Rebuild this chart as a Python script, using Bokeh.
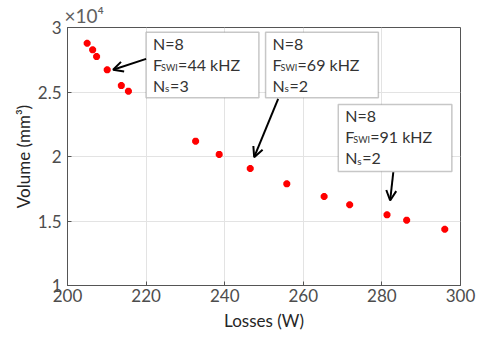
from bokeh.plotting import figure
from bokeh.models import (Range1d, FixedTicker, CustomJSTickFormatter, BoxAnnotation,
                          Label, Arrow, OpenHead, Title)
from bokeh.embed import file_html
from bokeh.resources import INLINE

# ---- data ----
losses = [205.0, 206.4, 207.4, 210.1, 213.7, 215.5, 232.6, 238.6, 246.5,
          255.8, 265.3, 271.8, 281.3, 286.3, 296.0]
volume = [28780, 28270, 27750, 26720, 25500, 25060, 21190, 20160, 19070,
          17880, 16900, 16260, 15480, 15060, 14360]
x_ticks = [200, 220, 240, 260, 280, 300]
y_ticks = [10000, 15000, 20000, 25000, 30000]

# annotation boxes: (left, right, top, bottom), texts
ann_boxes = [(220.0, 248.7, 29640, 24550),
             (250.4, 279.1, 29640, 24550),
             (268.9, 297.8, 24030, 18840)]
ann_n = ["N=8", "N=8", "N=8"]
ann_f = ["=44 kHZ", "=69 kHZ", "=91 kHZ"]
ann_ns = ["=3", "=2", "=2"]
# arrows: tail -> head
arrows = [((220.0, 27570), (211.6, 26720)),
          ((253.6, 24470), (247.5, 19950)),
          ((282.9, 18780), (282.1, 16590))]

FONT = "Lato"
p = figure(frame_width=393, frame_height=258, output_backend="svg",
           toolbar_location=None,
           x_range=Range1d(200, 300), y_range=Range1d(10000, 30000),
           min_border_left=67, min_border_right=19, min_border_top=27,
           min_border_bottom=51,
           title=Title(text="×10⁴", align="left", offset=-3, standoff=1,
                       text_font=FONT, text_font_size="19px",
                       text_font_style="normal", text_color="#606060"))
p.background_fill_color = "white"
p.outline_line_color = "#555555"
p.outline_line_width = 1

for ax in (p.xaxis[0], p.yaxis[0]):
    ax.major_label_text_font = FONT
    ax.major_label_text_font_size = "17px"
    ax.major_label_text_color = "#4d4d4d"
    ax.axis_label_text_font = FONT
    ax.axis_label_text_font_size = "17px"
    ax.axis_label_text_font_style = "normal"
    ax.axis_label_text_color = "#262626"
    ax.axis_line_color = "#555555"
    ax.major_tick_line_color = "#555555"
    ax.major_tick_in = 4
    ax.major_tick_out = 0
    ax.minor_tick_line_color = None

p.xaxis.ticker = FixedTicker(ticks=x_ticks)
p.yaxis.ticker = FixedTicker(ticks=y_ticks)
p.yaxis.formatter = CustomJSTickFormatter(code="return (tick/1e4).toString();")
p.xaxis.axis_label = "Losses (W)"
p.yaxis.axis_label = "Volume (mm³)"
p.xaxis.major_label_standoff = 3
p.yaxis.major_label_standoff = 6
p.xaxis.axis_label_standoff = 5
p.yaxis.axis_label_standoff = 1

p.xgrid.grid_line_color = "#e3e3e3"
p.ygrid.grid_line_color = "#e3e3e3"

p.scatter(losses, volume, marker="asterisk", size=7, line_color="red",
          line_width=2.5)

for (l, r, t, b), tn, tf, ts in zip(ann_boxes, ann_n, ann_f, ann_ns):
    p.add_layout(BoxAnnotation(left=l, right=r, top=t, bottom=b,
                               fill_color="white", fill_alpha=1,
                               line_color="#444444", line_width=1.5,
                               level="overlay"))
    kw = dict(text_font=FONT, text_color="#333333", text_baseline="middle",
              level="overlay")
    p.add_layout(Label(x=l, y=t, x_offset=7, y_offset=-11, text=tn,
                       text_font_size="16px", **kw))
    p.add_layout(Label(x=l, y=t, x_offset=7, y_offset=-32, text="F",
                       text_font_size="16px", **kw))
    p.add_layout(Label(x=l, y=t, x_offset=15, y_offset=-35, text="SWI",
                       text_font_size="9px", **kw))
    p.add_layout(Label(x=l, y=t, x_offset=32, y_offset=-32, text=tf,
                       text_font_size="16px", **kw))
    p.add_layout(Label(x=l, y=t, x_offset=7, y_offset=-53, text="N",
                       text_font_size="16px", **kw))
    p.add_layout(Label(x=l, y=t, x_offset=19, y_offset=-56, text="s",
                       text_font_size="10px", **kw))
    p.add_layout(Label(x=l, y=t, x_offset=24, y_offset=-53, text=ts,
                       text_font_size="16px", **kw))

for (x0, y0), (x1, y1) in arrows:
    p.add_layout(Arrow(x_start=x0, y_start=y0, x_end=x1, y_end=y1,
                       line_color="black", line_width=2,
                       end=OpenHead(size=10, line_color="black", line_width=2),
                       level="overlay"))

open("out.html", "w").write(file_html(p, INLINE))
